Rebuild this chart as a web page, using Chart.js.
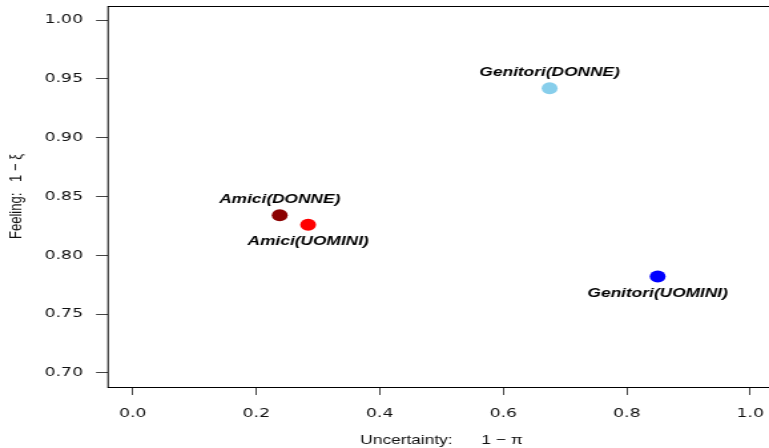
<!DOCTYPE html>
<html>
<head>
<meta charset="utf-8">
<script src="https://cdn.jsdelivr.net/npm/chart.js@4/dist/chart.umd.min.js"></script>
<style>
  html, body { margin: 0; padding: 0; background: #fff; width: 769px; height: 448px; overflow: hidden; }
  #wrap { position: absolute; left: 0; top: 0; width: 584px; height: 448px; transform: scaleX(1.3305); transform-origin: 0 0; }
</style>
</head>
<body>
<div id="wrap"><canvas id="plot" width="584" height="448"></canvas></div>
<script>
// Groups and their (uncertainty, feeling) coordinates
const groups = ['Amici(DONNE)', 'Amici(UOMINI)', 'Genitori(DONNE)', 'Genitori(UOMINI)'];
const uncertainty = [0.238, 0.284, 0.675, 0.850];
const feeling = [0.834, 0.826, 0.942, 0.782];
const pointColors = ['#8B0000', '#FF0000', '#87CEEB', '#0000FF'];
const labelSide = ['above', 'below', 'above', 'below'];

// Axis ticks
const xTicks = [0.0, 0.2, 0.4, 0.6, 0.8, 1.0];
const yTicks = [0.70, 0.75, 0.80, 0.85, 0.90, 0.95, 1.00];

// Plot box, drawn as a full rectangle, plus the group names beside each point
const frameAndLabels = {
  id: 'frameAndLabels',
  afterDatasetsDraw(chart) {
    const { ctx, chartArea: a, scales: { x, y } } = chart;
    ctx.save();
    ctx.strokeStyle = '#000';
    ctx.lineWidth = 1;
    ctx.strokeRect(a.left, Math.round(a.top) + 0.5, a.right - a.left, Math.round(a.bottom - a.top));
    ctx.font = 'italic bold 13px "Liberation Sans", Arial, sans-serif';
    ctx.textAlign = 'center';
    ctx.textBaseline = 'middle';
    ctx.fillStyle = '#000';
    groups.forEach((g, i) => {
      const px = x.getPixelForValue(uncertainty[i]);
      const py = y.getPixelForValue(feeling[i]);
      ctx.fillText(g, px, py + (labelSide[i] === 'above' ? -16 : 17));
    });
    ctx.restore();
  }
};

const tickFont = { family: '"DejaVu Sans", sans-serif', size: 13 };
const titleFont = { family: '"Liberation Sans", Arial, sans-serif', size: 13 };

new Chart(document.getElementById('plot'), {
  type: 'scatter',
  data: {
    datasets: [{
      data: groups.map((g, i) => ({ x: uncertainty[i], y: feeling[i] })),
      pointBackgroundColor: pointColors,
      pointBorderWidth: 0,
      pointRadius: 6,
      pointHoverRadius: 6
    }]
  },
  options: {
    responsive: false,
    animation: false,
    events: [],
    layout: { autoPadding: false, padding: { top: 6, right: 1.5, left: 0, bottom: 0 } },
    plugins: { legend: { display: false }, tooltip: { enabled: false } },
    scales: {
      x: {
        type: 'linear',
        min: -0.04,
        max: 1.04,
        afterBuildTicks: s => { s.ticks = xTicks.map(v => ({ value: v })); },
        afterFit: s => { s.height = 61; s.paddingLeft = 0; s.paddingRight = 0; },
        border: { display: false },
        grid: { drawOnChartArea: false, drawTicks: true, tickLength: 8, tickColor: '#444', lineWidth: 1 },
        ticks: {
          font: tickFont, color: '#111', padding: 10.5, maxRotation: 0,
          callback: v => Number(v).toFixed(1)
        },
        title: {
          display: true, text: 'Uncertainty:      1 − π', font: titleFont, color: '#111',
          padding: { top: 0, bottom: 0 }
        }
      },
      y: {
        type: 'linear',
        min: 0.688,
        max: 1.012,
        afterBuildTicks: s => { s.ticks = yTicks.map(v => ({ value: v })); },
        afterFit: s => { s.width = 81.2; s.paddingTop = 0; s.paddingBottom = 0; },
        border: { display: false },
        grid: { drawOnChartArea: false, drawTicks: true, tickLength: 9, tickColor: '#444', lineWidth: 1 },
        ticks: {
          font: tickFont, color: '#111', padding: 9.8,
          callback: v => Number(v).toFixed(2)
        },
        title: {
          display: true, text: 'Feeling:   1 − ξ', font: titleFont, color: '#111',
          padding: { top: 5, bottom: 0 }
        }
      }
    }
  },
  plugins: [frameAndLabels]
});
</script>
</body>
</html>
